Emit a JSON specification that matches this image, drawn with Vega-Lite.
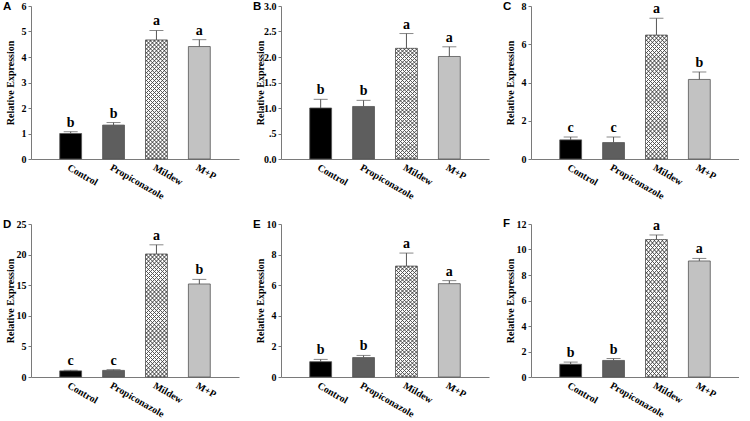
{
"$schema": "https://vega.github.io/schema/vega-lite/v6.json",
"padding": {"left": 3, "top": 0, "right": 0, "bottom": 0},
"background": "white",
"bounds": "flush",
"columns": 3,
"spacing": {"row": 65, "column": 42},
"datasets": {"bars": [
{"panel":"A","group":"Control","value":1.0,"upper":1.07,"letter":"b"},
{"panel":"A","group":"Propiconazole","value":1.33,"upper":1.43,"letter":"b"},
{"panel":"A","group":"Mildew","value":4.67,"upper":5.04,"letter":"a"},
{"panel":"A","group":"M+P","value":4.41,"upper":4.68,"letter":"a"},
{"panel":"B","group":"Control","value":1.0,"upper":1.17,"letter":"b"},
{"panel":"B","group":"Propiconazole","value":1.03,"upper":1.15,"letter":"b"},
{"panel":"B","group":"Mildew","value":2.17,"upper":2.46,"letter":"a"},
{"panel":"B","group":"M+P","value":2.01,"upper":2.2,"letter":"a"},
{"panel":"C","group":"Control","value":1.0,"upper":1.15,"letter":"c"},
{"panel":"C","group":"Propiconazole","value":0.86,"upper":1.15,"letter":"c"},
{"panel":"C","group":"Mildew","value":6.48,"upper":7.36,"letter":"a"},
{"panel":"C","group":"M+P","value":4.16,"upper":4.55,"letter":"b"},
{"panel":"D","group":"Control","value":1.0,"upper":1.1,"letter":"c"},
{"panel":"D","group":"Propiconazole","value":1.08,"upper":1.2,"letter":"c"},
{"panel":"D","group":"Mildew","value":20.1,"upper":21.6,"letter":"a"},
{"panel":"D","group":"M+P","value":15.2,"upper":15.95,"letter":"b"},
{"panel":"E","group":"Control","value":1.0,"upper":1.15,"letter":"b"},
{"panel":"E","group":"Propiconazole","value":1.27,"upper":1.41,"letter":"b"},
{"panel":"E","group":"Mildew","value":7.25,"upper":8.1,"letter":"a"},
{"panel":"E","group":"M+P","value":6.1,"upper":6.3,"letter":"a"},
{"panel":"F","group":"Control","value":1.0,"upper":1.17,"letter":"b"},
{"panel":"F","group":"Propiconazole","value":1.3,"upper":1.45,"letter":"b"},
{"panel":"F","group":"Mildew","value":10.78,"upper":11.14,"letter":"a"},
{"panel":"F","group":"M+P","value":9.1,"upper":9.3,"letter":"a"}
]},
"concat": [
{"title":"A","width":208,"height":153,"data":{"name":"bars"},"transform":[{"filter":"datum.panel=='A'"}],
 "encoding":{"x":{"field":"group","type":"nominal","sort":null,"title":null,"scale":{"paddingInner":0.49,"paddingOuter":0.67}},
  "y":{"field":"value","type":"quantitative","title":"Relative Expression","scale":{"domain":[0,6]},"axis":{"values":[0,1,2,3,4,5,6]}}},
 "layer":[
  {"mark":{"type":"bar","stroke":"#555","strokeWidth":0.8},"encoding":{"fill":{"field":"group","type":"nominal"}}},
  {"transform":[{"filter":"datum.group=='Mildew'"}],"mark":{"type":"bar"}},
  {"transform":[{"filter":"datum.group=='Mildew'"}],"mark":{"type":"rect"},"encoding":{"y2":{"datum":0}}},
  {"mark":{"type":"rule","color":"#555"},"encoding":{"y2":{"field":"upper"}}},
  {"mark":{"type":"tick","color":"#555","size":14,"thickness":1},"encoding":{"y":{"field":"upper","type":"quantitative","title":"Relative Expression"}}},
  {"mark":{"type":"text","style":"letter"},"encoding":{"y":{"field":"upper","type":"quantitative","title":"Relative Expression"},"text":{"field":"letter"}}}
 ]},
{"title":"B","width":208,"height":153,"data":{"name":"bars"},"transform":[{"filter":"datum.panel=='B'"}],
 "encoding":{"x":{"field":"group","type":"nominal","sort":null,"title":null,"scale":{"paddingInner":0.49,"paddingOuter":0.67}},
  "y":{"field":"value","type":"quantitative","title":"Relative Expression","scale":{"domain":[0,3]},"axis":{"values":[0,0.5,1,1.5,2,2.5,3],"labelExpr":"datum.value == 0.5 ? '.5' : format(datum.value, '.1f')"}}},
 "layer":[
  {"mark":{"type":"bar","stroke":"#555","strokeWidth":0.8},"encoding":{"fill":{"field":"group","type":"nominal"}}},
  {"transform":[{"filter":"datum.group=='Mildew'"}],"mark":{"type":"bar"}},
  {"transform":[{"filter":"datum.group=='Mildew'"}],"mark":{"type":"rect"},"encoding":{"y2":{"datum":0}}},
  {"mark":{"type":"rule","color":"#555"},"encoding":{"y2":{"field":"upper"}}},
  {"mark":{"type":"tick","color":"#555","size":14,"thickness":1},"encoding":{"y":{"field":"upper","type":"quantitative","title":"Relative Expression"}}},
  {"mark":{"type":"text","style":"letter"},"encoding":{"y":{"field":"upper","type":"quantitative","title":"Relative Expression"},"text":{"field":"letter"}}}
 ]},
{"title":"C","width":208,"height":153,"data":{"name":"bars"},"transform":[{"filter":"datum.panel=='C'"}],
 "encoding":{"x":{"field":"group","type":"nominal","sort":null,"title":null,"scale":{"paddingInner":0.49,"paddingOuter":0.67}},
  "y":{"field":"value","type":"quantitative","title":"Relative Expression","scale":{"domain":[0,8]},"axis":{"values":[0,2,4,6,8]}}},
 "layer":[
  {"mark":{"type":"bar","stroke":"#555","strokeWidth":0.8},"encoding":{"fill":{"field":"group","type":"nominal"}}},
  {"transform":[{"filter":"datum.group=='Mildew'"}],"mark":{"type":"bar"}},
  {"transform":[{"filter":"datum.group=='Mildew'"}],"mark":{"type":"rect"},"encoding":{"y2":{"datum":0}}},
  {"mark":{"type":"rule","color":"#555"},"encoding":{"y2":{"field":"upper"}}},
  {"mark":{"type":"tick","color":"#555","size":14,"thickness":1},"encoding":{"y":{"field":"upper","type":"quantitative","title":"Relative Expression"}}},
  {"mark":{"type":"text","style":"letter"},"encoding":{"y":{"field":"upper","type":"quantitative","title":"Relative Expression"},"text":{"field":"letter"}}}
 ]},
{"title":"D","width":208,"height":153,"data":{"name":"bars"},"transform":[{"filter":"datum.panel=='D'"}],
 "encoding":{"x":{"field":"group","type":"nominal","sort":null,"title":null,"scale":{"paddingInner":0.49,"paddingOuter":0.67}},
  "y":{"field":"value","type":"quantitative","title":"Relative Expression","scale":{"domain":[0,25]},"axis":{"values":[0,5,10,15,20,25]}}},
 "layer":[
  {"mark":{"type":"bar","stroke":"#555","strokeWidth":0.8},"encoding":{"fill":{"field":"group","type":"nominal"}}},
  {"transform":[{"filter":"datum.group=='Mildew'"}],"mark":{"type":"bar"}},
  {"transform":[{"filter":"datum.group=='Mildew'"}],"mark":{"type":"rect"},"encoding":{"y2":{"datum":0}}},
  {"mark":{"type":"rule","color":"#555"},"encoding":{"y2":{"field":"upper"}}},
  {"mark":{"type":"tick","color":"#555","size":14,"thickness":1},"encoding":{"y":{"field":"upper","type":"quantitative","title":"Relative Expression"}}},
  {"mark":{"type":"text","style":"letter"},"encoding":{"y":{"field":"upper","type":"quantitative","title":"Relative Expression"},"text":{"field":"letter"}}}
 ]},
{"title":"E","width":208,"height":153,"data":{"name":"bars"},"transform":[{"filter":"datum.panel=='E'"}],
 "encoding":{"x":{"field":"group","type":"nominal","sort":null,"title":null,"scale":{"paddingInner":0.49,"paddingOuter":0.67}},
  "y":{"field":"value","type":"quantitative","title":"Relative Expression","scale":{"domain":[0,10]},"axis":{"values":[0,2,4,6,8,10]}}},
 "layer":[
  {"mark":{"type":"bar","stroke":"#555","strokeWidth":0.8},"encoding":{"fill":{"field":"group","type":"nominal"}}},
  {"transform":[{"filter":"datum.group=='Mildew'"}],"mark":{"type":"bar"}},
  {"transform":[{"filter":"datum.group=='Mildew'"}],"mark":{"type":"rect"},"encoding":{"y2":{"datum":0}}},
  {"mark":{"type":"rule","color":"#555"},"encoding":{"y2":{"field":"upper"}}},
  {"mark":{"type":"tick","color":"#555","size":14,"thickness":1},"encoding":{"y":{"field":"upper","type":"quantitative","title":"Relative Expression"}}},
  {"mark":{"type":"text","style":"letter"},"encoding":{"y":{"field":"upper","type":"quantitative","title":"Relative Expression"},"text":{"field":"letter"}}}
 ]},
{"title":"F","width":208,"height":153,"data":{"name":"bars"},"transform":[{"filter":"datum.panel=='F'"}],
 "encoding":{"x":{"field":"group","type":"nominal","sort":null,"title":null,"scale":{"paddingInner":0.49,"paddingOuter":0.67}},
  "y":{"field":"value","type":"quantitative","title":"Relative Expression","scale":{"domain":[0,12]},"axis":{"values":[0,2,4,6,8,10,12]}}},
 "layer":[
  {"mark":{"type":"bar","stroke":"#555","strokeWidth":0.8},"encoding":{"fill":{"field":"group","type":"nominal"}}},
  {"transform":[{"filter":"datum.group=='Mildew'"}],"mark":{"type":"bar"}},
  {"transform":[{"filter":"datum.group=='Mildew'"}],"mark":{"type":"rect"},"encoding":{"y2":{"datum":0}}},
  {"mark":{"type":"rule","color":"#555"},"encoding":{"y2":{"field":"upper"}}},
  {"mark":{"type":"tick","color":"#555","size":14,"thickness":1},"encoding":{"y":{"field":"upper","type":"quantitative","title":"Relative Expression"}}},
  {"mark":{"type":"text","style":"letter"},"encoding":{"y":{"field":"upper","type":"quantitative","title":"Relative Expression"},"text":{"field":"letter"}}}
 ]}
],
"config": {
 "view": {"stroke": null},
 "legend": {"disable": true},
 "range": {"category": ["#000000", "#c2c2c2", "#ffffff", "#5e5e5e"]},
 "axis": {"domainColor": "#7a7a7a", "domainWidth": 1, "grid": false, "labelFont": "Liberation Serif", "labelFontWeight": "bold", "labelFontSize": 10, "labelColor": "#000", "titleFont": "Liberation Serif", "titleFontWeight": "bold", "titleFontSize": 10, "titleColor": "#000"},
 "axisX": {"ticks": false, "labelAngle": 30, "labelAlign": "left", "labelBaseline": "top", "labelPadding": 3},
 "axisY": {"ticks": true, "tickSize": 3, "tickColor": "#7a7a7a", "labelPadding": 2, "titleX": -18, "titleY": 76.5, "titleBaseline": "alphabetic"},
 "title": {"anchor": "start", "frame": "group", "font": "Liberation Sans", "fontSize": 11.5, "fontWeight": "bold", "color": "#000", "dx": -28, "offset": 0, "baseline": "alphabetic", "dy": 15},
 "style": {
  "letter": {"font": "Liberation Serif", "fontSize": 14, "fontWeight": "bold", "baseline": "bottom", "dy": -2, "color": "#000"}
 },
 "bar": {"fill": {"gradient": "linear", "x1": 0, "y1": 0, "x2": 0.2217, "y2": 1.2094, "stops": [
{"offset":0.0073,"color":"#0000"},{"offset":0.0133,"color":"#555"},{"offset":0.0193,"color":"#0000"},
{"offset":0.034,"color":"#0000"},{"offset":0.04,"color":"#555"},{"offset":0.046,"color":"#0000"},
{"offset":0.0607,"color":"#0000"},{"offset":0.0667,"color":"#555"},{"offset":0.0727,"color":"#0000"},
{"offset":0.0873,"color":"#0000"},{"offset":0.0933,"color":"#555"},{"offset":0.0993,"color":"#0000"},
{"offset":0.114,"color":"#0000"},{"offset":0.12,"color":"#555"},{"offset":0.126,"color":"#0000"},
{"offset":0.1407,"color":"#0000"},{"offset":0.1467,"color":"#555"},{"offset":0.1527,"color":"#0000"},
{"offset":0.1673,"color":"#0000"},{"offset":0.1733,"color":"#555"},{"offset":0.1793,"color":"#0000"},
{"offset":0.194,"color":"#0000"},{"offset":0.2,"color":"#555"},{"offset":0.206,"color":"#0000"},
{"offset":0.2207,"color":"#0000"},{"offset":0.2267,"color":"#555"},{"offset":0.2327,"color":"#0000"},
{"offset":0.2473,"color":"#0000"},{"offset":0.2533,"color":"#555"},{"offset":0.2593,"color":"#0000"},
{"offset":0.274,"color":"#0000"},{"offset":0.28,"color":"#555"},{"offset":0.286,"color":"#0000"},
{"offset":0.3007,"color":"#0000"},{"offset":0.3067,"color":"#555"},{"offset":0.3127,"color":"#0000"},
{"offset":0.3273,"color":"#0000"},{"offset":0.3333,"color":"#555"},{"offset":0.3393,"color":"#0000"},
{"offset":0.354,"color":"#0000"},{"offset":0.36,"color":"#555"},{"offset":0.366,"color":"#0000"},
{"offset":0.3807,"color":"#0000"},{"offset":0.3867,"color":"#555"},{"offset":0.3927,"color":"#0000"},
{"offset":0.4073,"color":"#0000"},{"offset":0.4133,"color":"#555"},{"offset":0.4193,"color":"#0000"},
{"offset":0.434,"color":"#0000"},{"offset":0.44,"color":"#555"},{"offset":0.446,"color":"#0000"},
{"offset":0.4607,"color":"#0000"},{"offset":0.4667,"color":"#555"},{"offset":0.4727,"color":"#0000"},
{"offset":0.4873,"color":"#0000"},{"offset":0.4933,"color":"#555"},{"offset":0.4993,"color":"#0000"},
{"offset":0.514,"color":"#0000"},{"offset":0.52,"color":"#555"},{"offset":0.526,"color":"#0000"},
{"offset":0.5407,"color":"#0000"},{"offset":0.5467,"color":"#555"},{"offset":0.5527,"color":"#0000"},
{"offset":0.5673,"color":"#0000"},{"offset":0.5733,"color":"#555"},{"offset":0.5793,"color":"#0000"},
{"offset":0.594,"color":"#0000"},{"offset":0.6,"color":"#555"},{"offset":0.606,"color":"#0000"},
{"offset":0.6207,"color":"#0000"},{"offset":0.6267,"color":"#555"},{"offset":0.6327,"color":"#0000"},
{"offset":0.6473,"color":"#0000"},{"offset":0.6533,"color":"#555"},{"offset":0.6593,"color":"#0000"},
{"offset":0.674,"color":"#0000"},{"offset":0.68,"color":"#555"},{"offset":0.686,"color":"#0000"},
{"offset":0.7007,"color":"#0000"},{"offset":0.7067,"color":"#555"},{"offset":0.7127,"color":"#0000"},
{"offset":0.7273,"color":"#0000"},{"offset":0.7333,"color":"#555"},{"offset":0.7393,"color":"#0000"},
{"offset":0.754,"color":"#0000"},{"offset":0.76,"color":"#555"},{"offset":0.766,"color":"#0000"},
{"offset":0.7807,"color":"#0000"},{"offset":0.7867,"color":"#555"},{"offset":0.7927,"color":"#0000"},
{"offset":0.8073,"color":"#0000"},{"offset":0.8133,"color":"#555"},{"offset":0.8193,"color":"#0000"},
{"offset":0.834,"color":"#0000"},{"offset":0.84,"color":"#555"},{"offset":0.846,"color":"#0000"},
{"offset":0.8607,"color":"#0000"},{"offset":0.8667,"color":"#555"},{"offset":0.8727,"color":"#0000"},
{"offset":0.8873,"color":"#0000"},{"offset":0.8933,"color":"#555"},{"offset":0.8993,"color":"#0000"},
{"offset":0.914,"color":"#0000"},{"offset":0.92,"color":"#555"},{"offset":0.926,"color":"#0000"},
{"offset":0.9407,"color":"#0000"},{"offset":0.9467,"color":"#555"},{"offset":0.9527,"color":"#0000"}
  ]}},
 "rect": {"fill": {"gradient": "linear", "x1": 1, "y1": 0, "x2": 0.7783, "y2": 1.2094, "stops": [
{"offset":0.0073,"color":"#0000"},{"offset":0.0133,"color":"#555"},{"offset":0.0193,"color":"#0000"},
{"offset":0.034,"color":"#0000"},{"offset":0.04,"color":"#555"},{"offset":0.046,"color":"#0000"},
{"offset":0.0607,"color":"#0000"},{"offset":0.0667,"color":"#555"},{"offset":0.0727,"color":"#0000"},
{"offset":0.0873,"color":"#0000"},{"offset":0.0933,"color":"#555"},{"offset":0.0993,"color":"#0000"},
{"offset":0.114,"color":"#0000"},{"offset":0.12,"color":"#555"},{"offset":0.126,"color":"#0000"},
{"offset":0.1407,"color":"#0000"},{"offset":0.1467,"color":"#555"},{"offset":0.1527,"color":"#0000"},
{"offset":0.1673,"color":"#0000"},{"offset":0.1733,"color":"#555"},{"offset":0.1793,"color":"#0000"},
{"offset":0.194,"color":"#0000"},{"offset":0.2,"color":"#555"},{"offset":0.206,"color":"#0000"},
{"offset":0.2207,"color":"#0000"},{"offset":0.2267,"color":"#555"},{"offset":0.2327,"color":"#0000"},
{"offset":0.2473,"color":"#0000"},{"offset":0.2533,"color":"#555"},{"offset":0.2593,"color":"#0000"},
{"offset":0.274,"color":"#0000"},{"offset":0.28,"color":"#555"},{"offset":0.286,"color":"#0000"},
{"offset":0.3007,"color":"#0000"},{"offset":0.3067,"color":"#555"},{"offset":0.3127,"color":"#0000"},
{"offset":0.3273,"color":"#0000"},{"offset":0.3333,"color":"#555"},{"offset":0.3393,"color":"#0000"},
{"offset":0.354,"color":"#0000"},{"offset":0.36,"color":"#555"},{"offset":0.366,"color":"#0000"},
{"offset":0.3807,"color":"#0000"},{"offset":0.3867,"color":"#555"},{"offset":0.3927,"color":"#0000"},
{"offset":0.4073,"color":"#0000"},{"offset":0.4133,"color":"#555"},{"offset":0.4193,"color":"#0000"},
{"offset":0.434,"color":"#0000"},{"offset":0.44,"color":"#555"},{"offset":0.446,"color":"#0000"},
{"offset":0.4607,"color":"#0000"},{"offset":0.4667,"color":"#555"},{"offset":0.4727,"color":"#0000"},
{"offset":0.4873,"color":"#0000"},{"offset":0.4933,"color":"#555"},{"offset":0.4993,"color":"#0000"},
{"offset":0.514,"color":"#0000"},{"offset":0.52,"color":"#555"},{"offset":0.526,"color":"#0000"},
{"offset":0.5407,"color":"#0000"},{"offset":0.5467,"color":"#555"},{"offset":0.5527,"color":"#0000"},
{"offset":0.5673,"color":"#0000"},{"offset":0.5733,"color":"#555"},{"offset":0.5793,"color":"#0000"},
{"offset":0.594,"color":"#0000"},{"offset":0.6,"color":"#555"},{"offset":0.606,"color":"#0000"},
{"offset":0.6207,"color":"#0000"},{"offset":0.6267,"color":"#555"},{"offset":0.6327,"color":"#0000"},
{"offset":0.6473,"color":"#0000"},{"offset":0.6533,"color":"#555"},{"offset":0.6593,"color":"#0000"},
{"offset":0.674,"color":"#0000"},{"offset":0.68,"color":"#555"},{"offset":0.686,"color":"#0000"},
{"offset":0.7007,"color":"#0000"},{"offset":0.7067,"color":"#555"},{"offset":0.7127,"color":"#0000"},
{"offset":0.7273,"color":"#0000"},{"offset":0.7333,"color":"#555"},{"offset":0.7393,"color":"#0000"},
{"offset":0.754,"color":"#0000"},{"offset":0.76,"color":"#555"},{"offset":0.766,"color":"#0000"},
{"offset":0.7807,"color":"#0000"},{"offset":0.7867,"color":"#555"},{"offset":0.7927,"color":"#0000"},
{"offset":0.8073,"color":"#0000"},{"offset":0.8133,"color":"#555"},{"offset":0.8193,"color":"#0000"},
{"offset":0.834,"color":"#0000"},{"offset":0.84,"color":"#555"},{"offset":0.846,"color":"#0000"},
{"offset":0.8607,"color":"#0000"},{"offset":0.8667,"color":"#555"},{"offset":0.8727,"color":"#0000"},
{"offset":0.8873,"color":"#0000"},{"offset":0.8933,"color":"#555"},{"offset":0.8993,"color":"#0000"},
{"offset":0.914,"color":"#0000"},{"offset":0.92,"color":"#555"},{"offset":0.926,"color":"#0000"},
{"offset":0.9407,"color":"#0000"},{"offset":0.9467,"color":"#555"},{"offset":0.9527,"color":"#0000"}
  ]}}
}
}
